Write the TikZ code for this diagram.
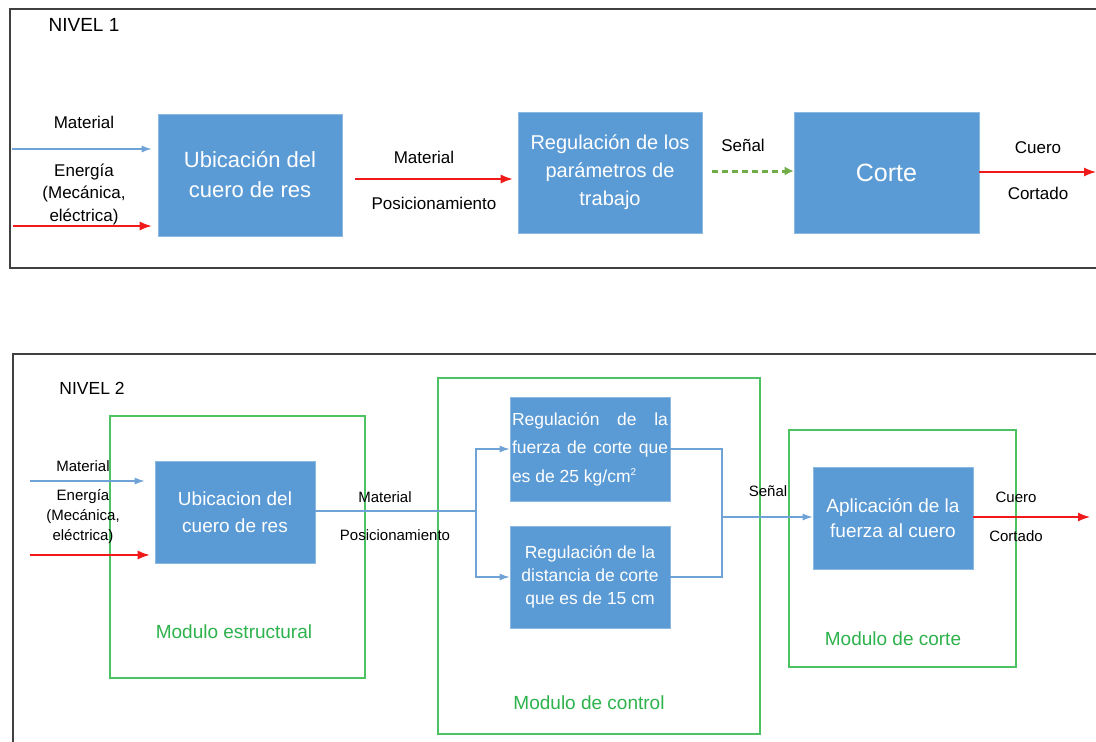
\documentclass[tikz,border=0pt]{standalone}
\usepackage{fontspec}
\setmainfont{Liberation Sans}
\usetikzlibrary{arrows.meta}
\definecolor{boxblue}{HTML}{5B9BD5}
\definecolor{lineblue}{HTML}{6FA3D8}
\definecolor{myred}{HTML}{F01A1A}
\definecolor{dashgreen}{HTML}{70AD47}
\definecolor{modgreen}{HTML}{4CC262}
\definecolor{modtext}{HTML}{2EB24C}
\definecolor{framegray}{HTML}{404040}
\newcommand{\fs}[2]{\fontsize{#1}{#2}\selectfont}
\begin{document}
\begin{tikzpicture}[x=1pt,y=-1pt,
  blk/.style={fill=boxblue, draw=boxblue!70!white, line width=0.6pt, text=white, inner sep=0pt, align=center},
  lbl/.style={inner sep=0pt, text=black, align=center},
  modbox/.style={draw=modgreen, line width=1.1pt, inner sep=0pt},
  modlbl/.style={inner sep=0pt, text=modtext, font=\fs{19}{23}},
  arr/.style={-{Latex[length=12pt,width=9pt]}, line width=1.3pt},
  barr/.style={-{Latex[length=10pt,width=7pt]}, line width=1.3pt, lineblue},
  bline/.style={line width=1.3pt, lineblue},
  frameline/.style={draw=framegray, line width=1.5pt}
]
\useasboundingbox (0,0) rectangle (1096,742);
\fill[white] (0,0) rectangle (1096,742);

% ---------------- NIVEL 1 ----------------
\draw[frameline] (1100,9) -- (10,9) -- (10,268) -- (1100,268);
\node[lbl, font=\fs{19}{23}] (n1) at (84,25) {NIVEL 1};

\node[blk, minimum width=184pt, minimum height=122pt, font=\fs{22}{30}] (u1) at (250,175) {Ubicación del\\cuero de res};
\node[blk, minimum width=184pt, minimum height=121pt, font=\fs{20}{28}] (r1) at (610,172.5) {Regulación de los\\parámetros de\\trabajo};
\node[blk, minimum width=185pt, minimum height=121pt, font=\fs{25}{30}] (c1) at (886.5,172.5) {Corte};

\coordinate (m1s) at (12,149);
\coordinate (e1s) at (13,226);
\coordinate (o1e) at (1096,172);
\draw[barr, shorten >=6pt] (m1s) -- (u1.west |- m1s);
\draw[arr, myred, shorten >=6pt] (e1s) -- (u1.west |- e1s);
\draw[arr, myred, shorten <=13pt, shorten >=5pt] (u1.east |- 0,179) -- (r1.west |- 0,179);
\draw[-{Latex[length=9pt,width=9pt]}, dashgreen, line width=3pt, dash pattern=on 6pt off 4pt, shorten <=10pt] (r1.east |- 0,171) -- (c1.west |- 0,171);
\draw[arr, myred] (c1.east |- o1e) -- (o1e);

\node[lbl, font=\fs{17}{21}] (t1) at (84,122) {Material};
\node[lbl, font=\fs{17}{22.5}] (t2) at (84,194) {Energía\\(Mecánica,\\eléctrica)};
\node[lbl, font=\fs{17}{21}] (t3) at (424,157) {Material};
\node[lbl, font=\fs{17}{21}] (t4) at (434,203) {Posicionamiento};
\node[lbl, font=\fs{17}{21}] (t5) at (743,145) {Señal};
\node[lbl, font=\fs{17}{21}] (t6) at (1038,148) {Cuero};
\node[lbl, font=\fs{17}{21}] (t7) at (1038,193) {Cortado};

% ---------------- NIVEL 2 ----------------
\draw[frameline] (1100,354) -- (13,354) -- (13,746);
\node[lbl, font=\fs{17.5}{21}] (n2) at (92,388) {NIVEL 2};

\node[modbox, minimum width=255pt, minimum height=262pt] (me) at (237.5,547) {};
\node[modbox, minimum width=322pt, minimum height=356pt] (mc) at (599,556) {};
\node[modbox, minimum width=227pt, minimum height=237pt] (mk) at (902.5,548.5) {};
\node[modlbl] (le) at (234,632) {Modulo estructural};
\node[modlbl] (lc) at (589,703) {Modulo de control};
\node[modlbl] (lk) at (893,639) {Modulo de corte};

\node[blk, minimum width=160pt, minimum height=102pt, font=\fs{19}{27}] (u2) at (235,512) {Ubicacion del\\cuero de res};
\node[blk, align=left, minimum width=160pt, minimum height=104pt, font=\fs{17.5}{28.5}] (fA) at (590,449)
  {\makebox[156pt][s]{Regulación de la}\\\makebox[156pt][s]{fuerza de corte que}\\es de 25 kg/cm\raisebox{0.75ex}{\fs{10}{10}2}};
\node[blk, minimum width=160pt, minimum height=102pt, font=\fs{17.5}{23}] (fB) at (590,577) {Regulación de la\\distancia de corte\\que es de 15 cm};
\node[blk, minimum width=160pt, minimum height=102pt, font=\fs{19}{25}] (ap) at (893,518) {Aplicación de la\\fuerza al cuero};

\coordinate (m2s) at (30,481);
\coordinate (e2s) at (30,555);
\coordinate (j1) at (476,511);
\coordinate (j2) at (722,517);
\coordinate (o2e) at (1090,517);
\draw[barr, shorten >=10pt] (m2s) -- (u2.west |- m2s);
\draw[arr, myred, shorten >=5pt] (e2s) -- (u2.west |- e2s);
\draw[bline] (u2.east |- j1) -- (j1);
\draw[barr] (j1) |- (fA.west);
\draw[barr] (j1) |- (fB.west);
\draw[bline] (fA.east) -| (j2);
\draw[bline] (fB.east) -| (j2);
\draw[barr] (j2) -- (ap.west |- j2);
\draw[arr, myred] (ap.east |- o2e) -- (o2e);

\node[lbl, font=\fs{15}{19}] (s1) at (83,466) {Material};
\node[lbl, font=\fs{15}{20}] (s2) at (83,517) {Energía\\(Mecánica,\\eléctrica)};
\node[lbl, font=\fs{15}{19}] (s3) at (385,497) {Material};
\node[lbl, font=\fs{15}{19}] (s4) at (395,535) {Posicionamiento};
\node[lbl, font=\fs{15}{19}] (s5) at (768,491) {Señal};
\node[lbl, font=\fs{15}{19}] (s6) at (1016,497) {Cuero};
\node[lbl, font=\fs{15}{19}] (s7) at (1016,536) {Cortado};
\end{tikzpicture}
\end{document}
